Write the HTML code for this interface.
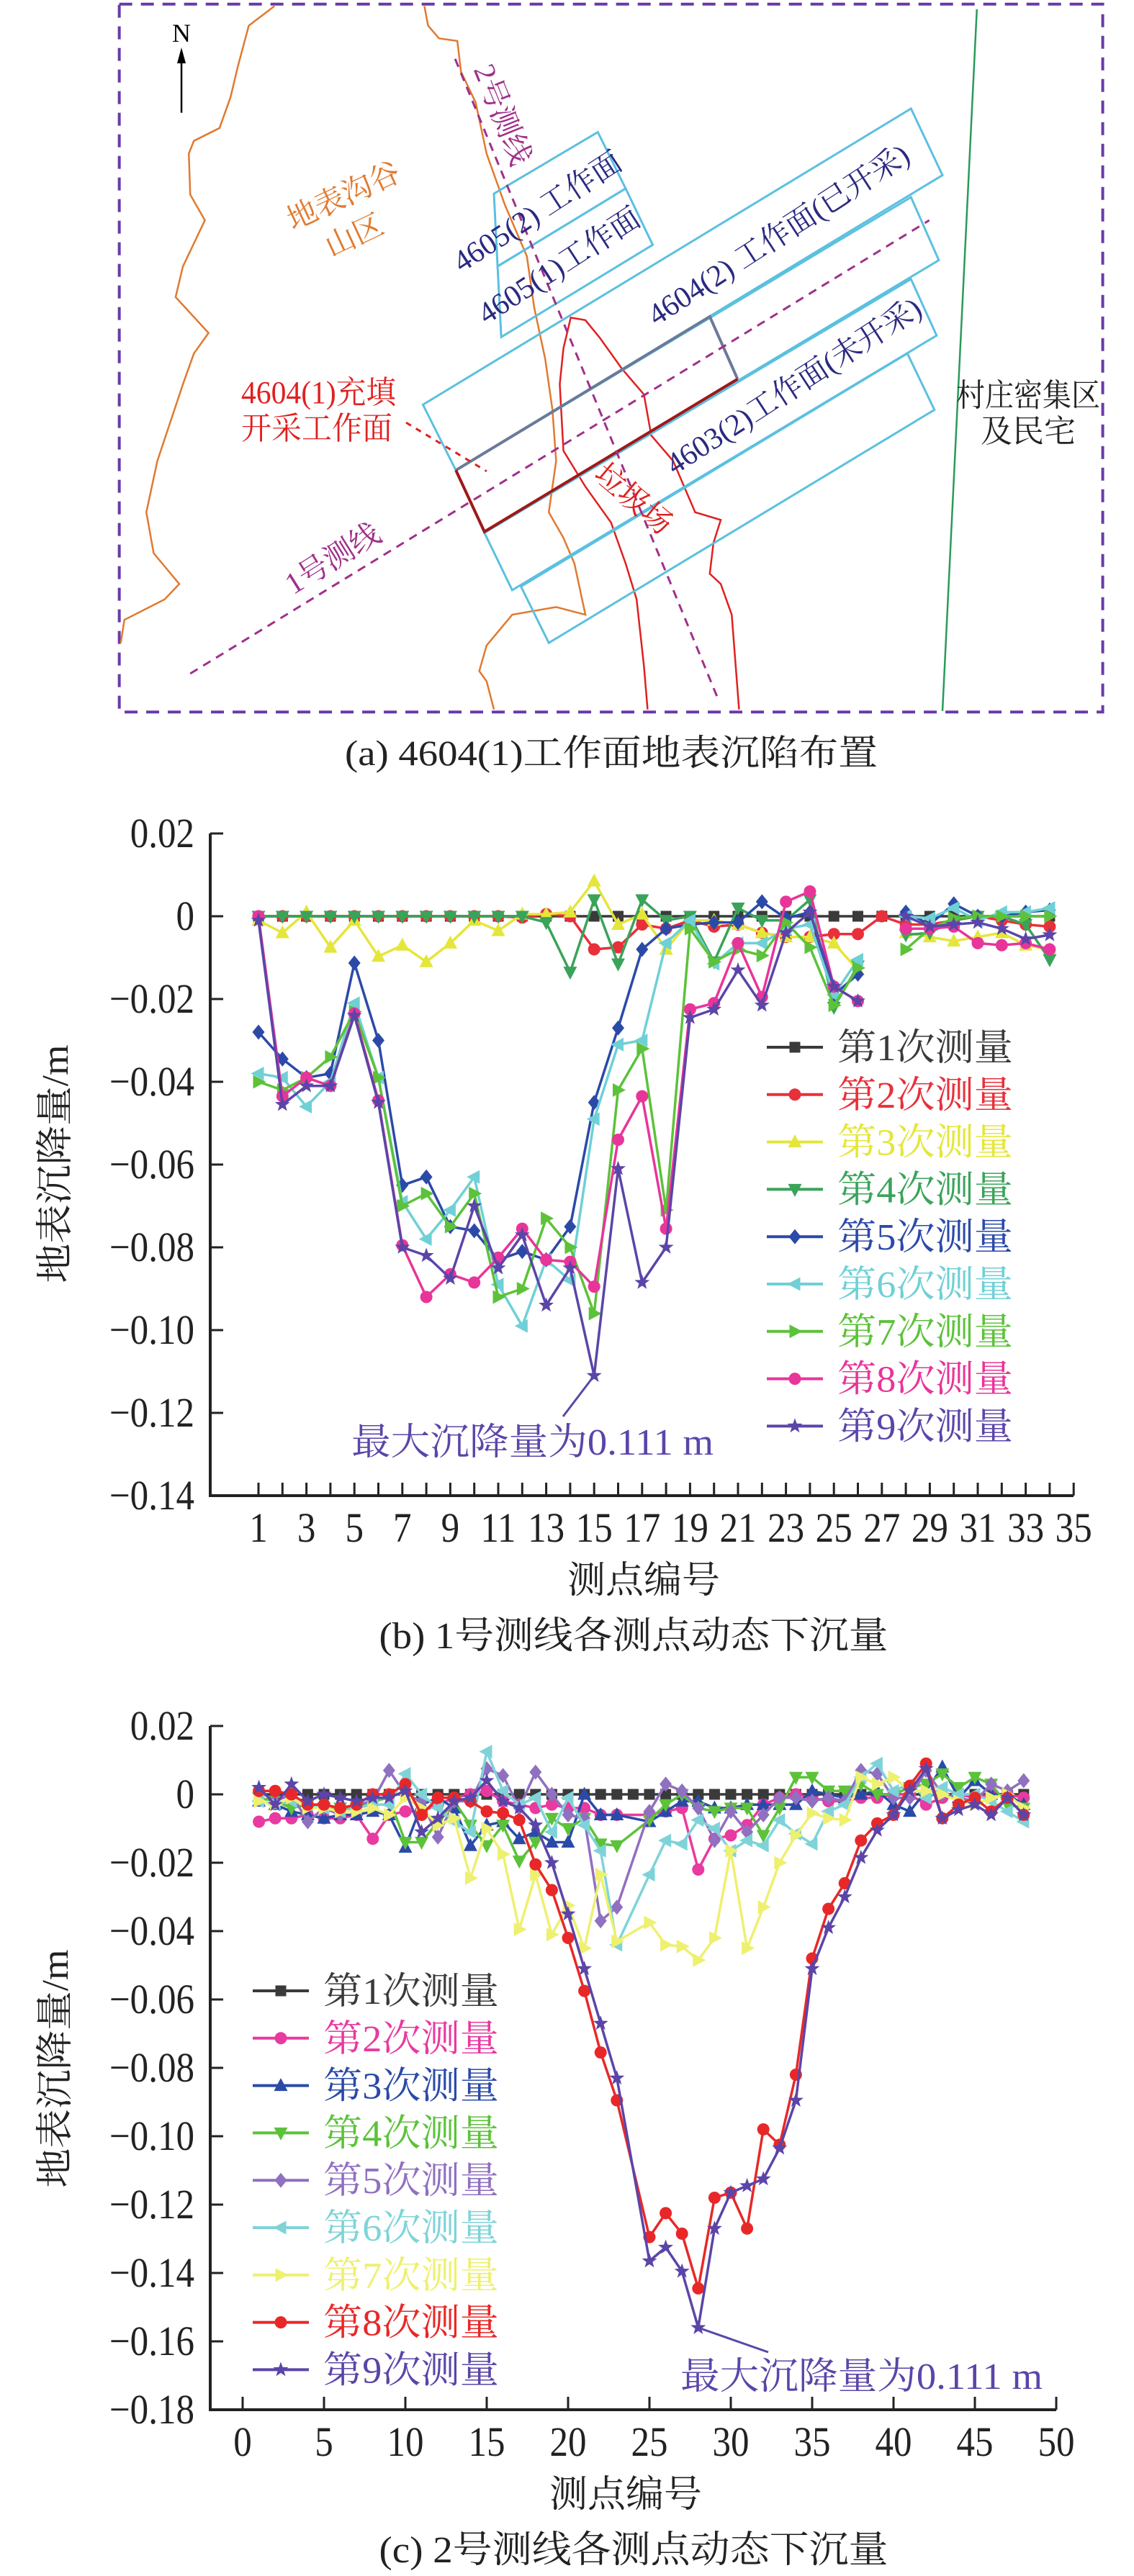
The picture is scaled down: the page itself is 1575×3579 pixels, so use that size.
<!DOCTYPE html>
<html><head><meta charset="utf-8">
<style>
html,body{margin:0;padding:0;background:#fff;}
svg{display:block;}
.t{font-family:"Liberation Serif","Noto Serif CJK SC",serif;}
</style></head>
<body>
<svg id="root" width="1575" height="3579" viewBox="0 0 1575 3579" xmlns="http://www.w3.org/2000/svg">
<rect width="1575" height="3579" fill="#fff"/>
<!-- (a) map -->
<g>
 <g transform="scale(1.0163,0.7117)" fill="none">
  <rect x="163" y="8" width="1344" height="1382" stroke="#6a3aa8" stroke-width="4" stroke-dasharray="18 12" vector-effect="non-scaling-stroke"/>
  <polyline stroke="#e07a30" stroke-width="2.5" vector-effect="non-scaling-stroke" points="375,12 340,50 325,130 315,190 300,250 265,275 258,300 260,380 280,430 250,520 240,580 285,650 265,690 250,750 215,900 200,1000 210,1080 245,1140 225,1170 170,1210 165,1255"/>
  <polyline stroke="#e07a30" stroke-width="2.5" vector-effect="non-scaling-stroke" points="580,12 585,50 600,75 625,80 630,140 650,200 665,300 690,400 720,500 730,600 745,700 755,800 760,900 750,1000 770,1050 785,1100 800,1200 760,1185 700,1200 665,1260 655,1310 665,1330 675,1385"/>
  <polyline stroke="#e02020" stroke-width="2.5" vector-effect="non-scaling-stroke" points="885,1385 880,1300 870,1170 855,1100 835,1020 800,950 770,880 765,750 770,680 780,620 800,625 820,660 850,720 880,770 890,850 920,900 950,1000 985,1015 975,1060 970,1120 985,1140 1000,1200 1010,1385"/>
  <line x1="1335" y1="18" x2="1288" y2="1388" stroke="#2a9a5a" stroke-width="2.5" vector-effect="non-scaling-stroke"/>
  <g stroke="#5bc0e0" stroke-width="3" vector-effect="non-scaling-stroke">
   <polygon vector-effect="non-scaling-stroke" points="675,378 817,258 855,368 680,520"/>
   <polygon vector-effect="non-scaling-stroke" points="680,520 855,368 892,478 685,658"/>
   <polygon vector-effect="non-scaling-stroke" points="578,790 1245,212 1288,342 623,918"/>
   <polygon vector-effect="non-scaling-stroke" points="623,918 1245,385 1283,508 662,1040"/>
   <polygon vector-effect="non-scaling-stroke" points="662,1040 1245,545 1280,655 700,1152"/>
   <polygon vector-effect="non-scaling-stroke" points="712,1145 1240,690 1277,800 750,1255"/>
  </g>
  <polyline points="623,918 970,618 1008,740" stroke="#6a7a9a" stroke-width="4" vector-effect="non-scaling-stroke"/>
  <polyline points="623,918 662,1038 1008,740" stroke="#a01818" stroke-width="4" vector-effect="non-scaling-stroke"/>
  <line x1="260" y1="1315" x2="1270" y2="430" stroke="#a0308a" stroke-width="3" stroke-dasharray="12 9" vector-effect="non-scaling-stroke"/>
  <line x1="622" y1="115" x2="980" y2="1360" stroke="#a0308a" stroke-width="3" stroke-dasharray="12 9" vector-effect="non-scaling-stroke"/>
  <line x1="555" y1="825" x2="665" y2="920" stroke="#e02020" stroke-width="3" stroke-dasharray="8 8" vector-effect="non-scaling-stroke"/>
  <line x1="248" y1="220" x2="248" y2="120" stroke="#000" stroke-width="2.5" vector-effect="non-scaling-stroke"/>
 </g>
 <polygon points="252,66 246,88 258,88" fill="#000"/>
 <text class="t" x="252" y="58" font-size="36" text-anchor="middle">N</text>
 <g class="t" font-size="42">
  <text x="483" y="285" fill="#e07a30" text-anchor="middle" transform="rotate(-25 483 285)">地表沟谷</text>
  <text x="498" y="340" fill="#e07a30" text-anchor="middle" transform="rotate(-25 498 340)">山区</text>
  <text x="696" y="172" fill="#a0308a" text-anchor="middle" transform="rotate(68 696 160)">2号测线</text>
  <text x="747" y="308" fill="#2a2a80" text-anchor="middle" transform="rotate(-33 747 295)">4605(2) 工作面</text>
  <text x="777" y="383" fill="#2a2a80" text-anchor="middle" transform="rotate(-33 777 370)">4605(1)工作面</text>
  <text x="1082" y="340" fill="#2a2a80" text-anchor="middle" transform="rotate(-33 1082 327)">4604(2) 工作面(已开采)</text>
  <text x="1103" y="550" fill="#2a2a80" text-anchor="middle" transform="rotate(-33 1103 537)">4603(2)工作面(未开采)</text>
  <text x="879" y="707" fill="#e02020" text-anchor="middle" transform="rotate(40 879 694)">垃圾场</text>
  <text x="462" y="790" fill="#a0308a" text-anchor="middle" transform="rotate(-32 462 776)">1号测线</text>
  <text x="335" y="560" fill="#e02020" font-size="44" textLength="215" lengthAdjust="spacingAndGlyphs">4604(1)充填</text>
  <text x="335" y="610" fill="#e02020" font-size="44" textLength="210" lengthAdjust="spacingAndGlyphs">开采工作面</text>
  <text x="1328" y="564" fill="#222" font-size="44" textLength="200" lengthAdjust="spacingAndGlyphs">村庄密集区</text>
  <text x="1428" y="614" fill="#222" font-size="44" text-anchor="middle">及民宅</text>
 </g>
 <text class="t" x="849" y="1063" font-size="50" fill="#222" text-anchor="middle" textLength="740" lengthAdjust="spacingAndGlyphs">(a) 4604(1)工作面地表沉陷布置</text>
</g>
<g id="chartB"></g>
<g id="chartC"></g>
</svg>
<script>
// ---------- Chart (b) data ----------
const bCategories = [1,2,3,4,5,6,7,8,9,10,11,12,13,14,15,16,17,18,19,20,21,22,23,24,25,26,27,28,29,30,31,32,33,34];
const bSeries1 = [0,0,0,0,0,0,0,0,0,0,0,0,0,0,0,0,0,0,0,0,0,0,0,0,0,0,0,0,0,0,0,0,0,0];
const bSeries2 = [0,0,0,0,0,0,0,0,0,0,0,-0.0003,0.0005,0,-0.008,-0.0075,-0.002,-0.003,-0.001,-0.0025,-0.002,-0.004,-0.005,-0.005,-0.0043,-0.0043,0,-0.002,-0.002,-0.001,0,-0.001,-0.002,-0.0025];
const bSeries3 = [-0.001,-0.004,0.001,-0.0075,-0.001,-0.0097,-0.007,-0.011,-0.0065,-0.001,-0.0035,0.0005,0.0005,0.001,0.0085,-0.002,0.0005,-0.008,-0.001,-0.001,-0.002,-0.004,-0.005,-0.005,-0.0065,-0.013,null,-0.004,-0.005,-0.006,-0.005,-0.004,-0.007,-0.008];
const bSeries4 = [0,0,0,0,0,0,0,0,0,0,0,0,-0.0015,-0.0135,0.004,-0.0115,0.004,-0.001,0,-0.011,0.002,-0.001,-0.001,0.004,-0.022,-0.012,null,-0.0045,-0.004,-0.001,0,0,-0.002,-0.0105];
const bSeries5 = [-0.028,-0.0345,-0.039,-0.038,-0.0113,-0.030,-0.065,-0.063,-0.075,-0.076,-0.083,-0.081,-0.083,-0.075,-0.045,-0.027,-0.008,-0.003,-0.002,-0.0015,-0.0015,0.0035,-0.0005,0.001,-0.019,-0.014,null,0.001,-0.002,0.003,0,0,0.001,0.0015];
const bSeries6 = [-0.038,-0.039,-0.046,-0.040,-0.021,-0.039,-0.069,-0.078,-0.071,-0.063,-0.089,-0.099,-0.083,-0.088,-0.049,-0.031,-0.030,-0.0065,-0.001,-0.0115,-0.0065,-0.0065,-0.003,-0.002,-0.019,-0.0105,null,0,-0.0005,0.002,-0.001,0.001,0.001,0.002];
const bSeries7 = [-0.040,-0.042,-0.039,-0.034,-0.023,-0.039,-0.070,-0.067,-0.075,-0.067,-0.092,-0.090,-0.073,-0.080,-0.096,-0.042,-0.032,-0.071,-0.003,-0.011,-0.008,-0.0095,-0.0015,-0.0075,-0.0215,-0.0125,null,-0.008,-0.003,-0.0005,0,0,0,0];
const bSeries8 = [0,-0.0435,-0.039,-0.041,-0.0235,-0.0445,-0.0795,-0.092,-0.0865,-0.0885,-0.0825,-0.0755,-0.083,-0.0835,-0.0895,-0.054,-0.0435,-0.0755,-0.0225,-0.021,-0.0065,-0.0195,0.0035,0.006,-0.017,-0.0205,null,-0.003,-0.003,-0.0025,-0.0065,-0.007,-0.0065,-0.008];
const bSeries9 = [-0.001,-0.0455,-0.041,-0.041,-0.024,-0.045,-0.080,-0.082,-0.0875,-0.070,-0.085,-0.077,-0.094,-0.085,-0.111,-0.061,-0.0885,-0.080,-0.0245,-0.0225,-0.013,-0.0215,-0.004,0.001,-0.017,-0.0205,null,0,-0.0025,-0.002,-0.0015,-0.003,-0.0055,-0.0045];
const bYTicks = [0.02,0,-0.02,-0.04,-0.06,-0.08,-0.10,-0.12,-0.14];
const bYTickLabels = ["0.02","0","−0.02","−0.04","−0.06","−0.08","−0.10","−0.12","−0.14"];
const bXTicks = [1,2,3,4,5,6,7,8,9,10,11,12,13,14,15,16,17,18,19,20,21,22,23,24,25,26,27,28,29,30,31,32,33,34,35];
const bXTickLabels = ["1","3","5","7","9","11","13","15","17","19","21","23","25","27","29","31","33","35"];
const bLegend = ["第1次测量","第2次测量","第3次测量","第4次测量","第5次测量","第6次测量","第7次测量","第8次测量","第9次测量"];
const bMax = {n:15, v:-0.111, label:"最大沉降量为0.111 m"};

// ---------- Chart (c) data ----------
const cCategories = [1,2,3,4,5,6,7,8,9,10,11,12,13,14,15,16,17,18,19,20,21,22,23,24,25,26,27,28,29,30,31,32,33,34,35,36,37,38,39,40,41,42,43,44,45,46,47,48];
const cSeries1 = [0,0,0,0,0,0,0,0,0,0,0,0,0,0,0,0,0,0,0,0,0,0,0,0,0,0,0,0,0,0,0,0,0,0,0,0,0,0,0,0,0,0,0,0,0,0,0,0];
const cSeries2 = [-0.008,-0.007,-0.007,-0.006,-0.007,-0.007,-0.006,-0.013,-0.006,-0.005,-0.005,-0.003,-0.001,0,0.001,-0.002,-0.003,-0.004,-0.003,-0.004,-0.004,-0.006,-0.006,null,-0.006,-0.005,-0.004,-0.022,-0.013,-0.012,-0.009,-0.003,-0.001,0,-0.001,-0.002,-0.002,-0.001,-0.001,0,0,-0.003,-0.001,0,-0.001,0,0,-0.001];
const cSeries3 = [-0.002,-0.003,-0.005,-0.006,-0.007,-0.006,-0.006,-0.005,-0.006,-0.0155,-0.003,-0.001,-0.004,-0.015,-0.009,-0.008,-0.013,-0.011,-0.014,-0.014,0,-0.006,-0.006,null,-0.008,-0.005,-0.002,-0.002,-0.004,-0.004,-0.003,-0.003,-0.003,-0.003,0.001,0,-0.001,0,0.001,-0.003,-0.005,0.001,0.008,-0.001,0.004,0,0,-0.003];
const cSeries4 = [-0.001,-0.002,-0.004,-0.003,-0.004,-0.004,-0.004,-0.002,-0.001,-0.014,-0.014,-0.008,-0.002,-0.009,-0.015,-0.009,-0.0195,-0.014,-0.007,-0.010,-0.007,-0.0145,-0.015,null,-0.0075,-0.003,0,-0.004,-0.005,-0.004,-0.004,-0.012,-0.004,0.005,0.005,0.001,0.001,0.003,0,0,0.002,0.003,0.006,0.002,0.005,0.003,-0.003,-0.004];
const cSeries5 = [0.001,-0.002,0,-0.008,-0.004,-0.006,-0.003,-0.002,0.007,0,-0.002,-0.0125,-0.002,-0.002,0.0075,0.0055,-0.004,0.0065,0,-0.006,-0.007,-0.037,-0.033,null,-0.005,0.003,0.001,-0.004,-0.0135,-0.005,-0.011,-0.006,-0.001,-0.001,-0.002,-0.001,-0.002,0.007,0.006,-0.001,-0.001,0.007,0,-0.001,-0.002,0.003,0.001,0.004];
const cSeries6 = [-0.002,-0.003,-0.002,-0.003,-0.004,-0.005,-0.004,-0.003,-0.003,0.006,0,-0.004,-0.008,-0.011,0.0125,0.001,-0.003,-0.001,-0.011,-0.001,-0.009,-0.0165,-0.044,null,-0.0235,-0.0135,-0.0145,-0.0075,-0.010,-0.0165,-0.0135,-0.015,-0.0075,-0.0115,-0.0145,-0.005,-0.003,0.005,0.009,0.001,0.003,-0.001,0.002,0,0,-0.002,-0.005,-0.008];
const cSeries7 = [-0.002,-0.003,-0.001,-0.004,-0.004,-0.005,-0.005,-0.004,-0.006,-0.001,-0.004,-0.009,-0.007,-0.0245,-0.010,-0.0175,-0.0395,-0.0235,-0.041,-0.0325,-0.045,-0.0235,-0.043,null,-0.0375,-0.044,-0.0445,-0.0485,-0.042,-0.0165,-0.045,-0.033,-0.020,-0.012,-0.0055,-0.007,-0.0075,0.005,0.003,0.005,0.001,0.001,0,-0.002,-0.003,-0.001,0,-0.004];
const cSeries8 = [0.001,0.001,0,-0.003,-0.003,-0.004,-0.003,0,0,0.003,-0.006,-0.001,-0.001,-0.002,-0.005,-0.0055,-0.0075,-0.0205,-0.028,-0.042,-0.0575,-0.0755,-0.0895,null,-0.1295,-0.1225,-0.1285,-0.1445,-0.118,-0.1165,-0.127,-0.098,-0.1025,-0.082,-0.048,-0.0335,-0.026,-0.0135,-0.0085,-0.006,0.0025,0.009,-0.007,-0.003,-0.001,-0.005,-0.001,-0.006];
const cSeries9 = [0.002,-0.003,0.003,-0.002,0,-0.001,-0.002,-0.001,-0.001,0.001,-0.011,-0.007,-0.002,-0.001,0.004,-0.002,-0.004,-0.009,-0.020,-0.035,-0.051,-0.067,-0.083,null,-0.1365,-0.1325,-0.1395,-0.156,-0.127,-0.1165,-0.1145,-0.1125,-0.1035,-0.0895,-0.051,-0.039,-0.030,-0.0185,-0.0105,-0.006,0.001,0.0075,-0.007,-0.0045,-0.003,-0.006,-0.001,-0.006];
const cYTicks = [0.02,0,-0.02,-0.04,-0.06,-0.08,-0.10,-0.12,-0.14,-0.16,-0.18];
const cYTickLabels = ["0.02","0","−0.02","−0.04","−0.06","−0.08","−0.10","−0.12","−0.14","−0.16","−0.18"];
const cXTicks = [0,5,10,15,20,25,30,35,40,45,50];
const cXTickLabels = ["0","5","10","15","20","25","30","35","40","45","50"];
const cLegend = ["第1次测量","第2次测量","第3次测量","第4次测量","第5次测量","第6次测量","第7次测量","第8次测量","第9次测量"];
const cMax = {n:28, v:-0.156, label:"最大沉降量为0.111 m"};

const NS = "http://www.w3.org/2000/svg";
function mk(tag, attrs, parent){
  const e = document.createElementNS(NS, tag);
  for (const k in attrs) e.setAttribute(k, attrs[k]);
  parent.appendChild(e);
  return e;
}
function markerShape(g, type, x, y, color){
  let e;
  const r = 8.5;
  if (type === 'square') e = mk('rect', {x:x-r+1, y:y-r+1, width:2*r-2, height:2*r-2, fill:color}, g);
  else if (type === 'circle') e = mk('circle', {cx:x, cy:y, r:r, fill:color}, g);
  else if (type === 'up') e = mk('polygon', {points:`${x},${y-r-2} ${x-r-1},${y+r-1} ${x+r+1},${y+r-1}`, fill:color}, g);
  else if (type === 'down') e = mk('polygon', {points:`${x},${y+r+2} ${x-r-1},${y-r+1} ${x+r+1},${y-r+1}`, fill:color}, g);
  else if (type === 'left') e = mk('polygon', {points:`${x-r-2},${y} ${x+r-1},${y-r-1} ${x+r-1},${y+r+1}`, fill:color}, g);
  else if (type === 'right') e = mk('polygon', {points:`${x+r+2},${y} ${x-r+1},${y-r-1} ${x-r+1},${y+r+1}`, fill:color}, g);
  else if (type === 'diamond') e = mk('polygon', {points:`${x},${y-r-2} ${x+r},${y} ${x},${y+r+2} ${x-r},${y}`, fill:color}, g);
  else {
    let p = [];
    for (let i=0;i<10;i++){ const a = -Math.PI/2 + i*Math.PI/5; const rr = i%2?4.5:11; p.push((x+rr*Math.cos(a)).toFixed(1)+','+(y+rr*Math.sin(a)).toFixed(1)); }
    e = mk('polygon', {points:p.join(' '), fill:color}, g);
  }
  return e;
}
function drawChart(cfg){
  const root = document.getElementById(cfg.id);
  const F = '"Liberation Serif","Noto Serif CJK SC",serif';
  const axes = mk('g', {}, root);
  
  
  const ya = mk('line', {x1:cfg.x0, y1:cfg.y(cfg.yTicks[0]), x2:cfg.x0, y2:cfg.y(cfg.yTicks[cfg.yTicks.length-1])+2, stroke:'#222', 'stroke-width':4}, axes);
  
  
  const xa = mk('line', {x1:cfg.x0, y1:cfg.yBase, x2:cfg.xEnd, y2:cfg.yBase, stroke:'#222', 'stroke-width':4}, axes);
  
  
  cfg.yTicks.forEach((v,i)=>{
    const yy = cfg.y(v);
    const tk = mk('line', {x1:cfg.x0, y1:yy, x2:cfg.x0+18, y2:yy, stroke:'#222', 'stroke-width':3}, axes);
    
    
    const tl = mk('text', {x:0, y:0, 'font-size':58, 'font-family':F, 'text-anchor':'end', fill:'#222', transform:`translate(270 ${yy+19}) scale(0.88 1)`}, axes);
    
    
    tl.textContent = cfg.yTickLabels[i];
  });
  cfg.xTicks.forEach(n=>{
    const xx = cfg.x(n);
    const tk = mk('line', {x1:xx, y1:cfg.yBase, x2:xx, y2:cfg.yBase-18, stroke:'#222', 'stroke-width':3}, axes);
    
    
  });
  cfg.xTickLabels.forEach(s=>{
    const tl = mk('text', {x:0, y:0, 'font-size':58, 'font-family':F, 'text-anchor':'middle', fill:'#222', transform:`translate(${cfg.x(+s)} ${cfg.yBase+64}) scale(0.88 1)`}, axes);
    
    
    tl.textContent = s;
  });
  const yt = mk('text', {x:0, y:0, 'font-size':52, 'font-family':F, 'text-anchor':'middle', fill:'#222', transform:`translate(94 ${cfg.yTitleY}) rotate(-90)`, textLength:331, lengthAdjust:'spacingAndGlyphs'}, axes);
  
  
  yt.textContent = '地表沉降量/m';
  const xt = mk('text', {x:cfg.xTitleX, y:cfg.yBase+135, 'font-size':52, 'font-family':F, 'text-anchor':'middle', fill:'#222', textLength:212, lengthAdjust:'spacingAndGlyphs'}, axes);
  
  
  xt.textContent = '测点编号';
  const cap = mk('text', {x:cfg.capX, y:cfg.yBase+212, 'font-size':52, 'font-family':F, 'text-anchor':'middle', fill:'#222', textLength:707, lengthAdjust:'spacingAndGlyphs'}, axes);
  
  
  cap.textContent = cfg.caption;
  cfg.series.forEach((s, si)=>{
    const g = mk('g', {}, root);
    
    
    let segs = [], cur = [];
    s.data.forEach((v,i)=>{
      if (v === null) { if (!cfg.spanGaps && cur.length){ segs.push(cur); cur=[]; } return; }
      cur.push([cfg.x(cfg.cats[i]), cfg.y(v)]);
    });
    if (cur.length) segs.push(cur);
    segs.forEach(sg=>{
      const pl = mk('polyline', {points:sg.map(p=>p[0].toFixed(1)+','+p[1].toFixed(1)).join(' '), fill:'none', stroke:s.color, 'stroke-width':3.5, 'stroke-linejoin':'round'}, g);
      
      
    });
    s.data.forEach((v,i)=>{
      if (v === null) return;
      const m = markerShape(g, s.marker, cfg.x(cfg.cats[i]), cfg.y(v), s.color);
      
      
    });
  });
  const lg = mk('g', {}, root);
  
  
  cfg.series.forEach((s, si)=>{
    const yy = cfg.legY + si*cfg.legDy;
    const ent = mk('g', {}, lg);
    
    
    mk('line', {x1:cfg.legX, y1:yy, x2:cfg.legX+78, y2:yy, stroke:s.color, 'stroke-width':4}, ent);
    markerShape(ent, s.marker, cfg.legX+39, yy, s.color);
    const t = mk('text', {x:cfg.legX+98, y:yy+18, 'font-size':52, 'font-family':F, fill:s.color, textLength:244, lengthAdjust:'spacingAndGlyphs'}, ent);
    t.textContent = cfg.legend[si];
  });
  const an = mk('g', {}, root);
  
  
  mk('line', {x1:cfg.x(cfg.max.n), y1:cfg.y(cfg.max.v), x2:cfg.annLine[0], y2:cfg.annLine[1], stroke:'#5b45a8', 'stroke-width':3}, an);
  const at = mk('text', {x:cfg.annX, y:cfg.annY, 'font-size':52, 'font-family':F, fill:'#5b45a8', textLength:503, lengthAdjust:'spacingAndGlyphs'}, an);
  at.textContent = cfg.max.label;
}

drawChart({
  id:'chartB', cats:bCategories, spanGaps:false,
  x:n=>359+(n-1)*33.3, y:v=>1273-v*5750, x0:292, xEnd:1491, yBase:2078,
  yTicks:bYTicks, yTickLabels:bYTickLabels, xTicks:bXTicks, xTickLabels:bXTickLabels,
  yTitleY:1617, xTitleX:894, capX:880, caption:'(b) 1号测线各测点动态下沉量',
  legX:1065, legY:1455, legDy:65.8, legend:bLegend,
  max:bMax, annLine:[782,1968], annX:488, annY:2021,
  series:[
    {data:bSeries1, color:'#3a3a3a', marker:'square'},
    {data:bSeries2, color:'#e8303a', marker:'circle'},
    {data:bSeries3, color:'#e4e63a', marker:'up'},
    {data:bSeries4, color:'#3aa35a', marker:'down'},
    {data:bSeries5, color:'#2b4aa8', marker:'diamond'},
    {data:bSeries6, color:'#6fd0d6', marker:'left'},
    {data:bSeries7, color:'#5cc23a', marker:'right'},
    {data:bSeries8, color:'#e8359a', marker:'circle'},
    {data:bSeries9, color:'#5b45a8', marker:'star'}
  ]
});
drawChart({
  id:'chartC', cats:cCategories, spanGaps:true,
  x:n=>337+n*22.6, y:v=>2493-v*4750, x0:292, xEnd:1467, yBase:3348,
  yTicks:cYTicks, yTickLabels:cYTickLabels, xTicks:cXTicks, xTickLabels:cXTickLabels,
  yTitleY:2874, xTitleX:869, capX:880, caption:'(c) 2号测线各测点动态下沉量',
  legX:351, legY:2766, legDy:65.8, legend:cLegend,
  max:cMax, annLine:[1067,3268], annX:945, annY:3319,
  series:[
    {data:cSeries1, color:'#3a3a3a', marker:'square'},
    {data:cSeries2, color:'#e83aa0', marker:'circle'},
    {data:cSeries3, color:'#2b4aa8', marker:'up'},
    {data:cSeries4, color:'#5cc23a', marker:'down'},
    {data:cSeries5, color:'#9070c0', marker:'diamond'},
    {data:cSeries6, color:'#7fd3d8', marker:'left'},
    {data:cSeries7, color:'#eef070', marker:'right'},
    {data:cSeries8, color:'#e82828', marker:'circle'},
    {data:cSeries9, color:'#5b45a8', marker:'star'}
  ]
});
</script>
</body></html>
